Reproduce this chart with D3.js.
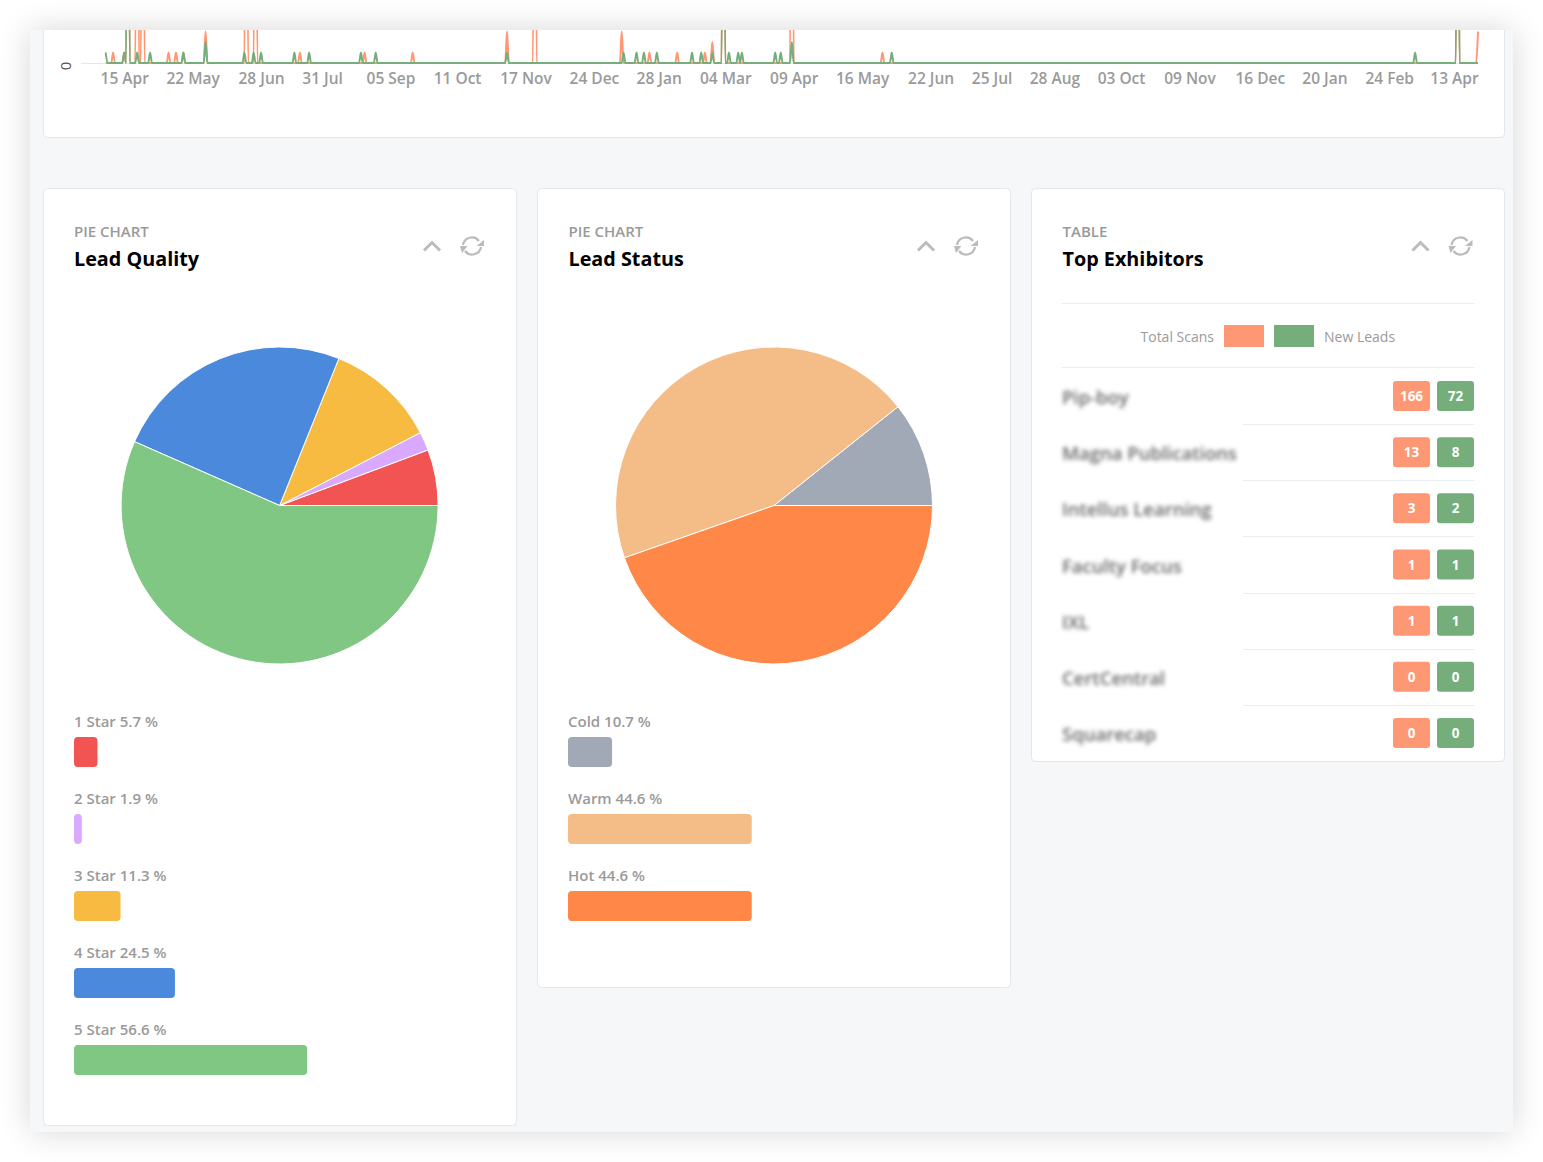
<!DOCTYPE html>
<html><head><meta charset="utf-8">
<script src="https://cdn.jsdelivr.net/npm/d3@7"></script>
<style>
html,body{margin:0;padding:0;background:#fff;overflow:hidden}
#frame{position:absolute;left:30px;top:30px;width:1483px;height:1102px;background:#f5f7f9;box-shadow:0 0 30px rgba(0,0,0,.16)}
svg{position:absolute;left:0;top:0}
text{font-family:"Open Sans",sans-serif}
</style></head><body>
<div id="frame"></div>
<svg id="c" width="1543" height="1162"></svg>
<script>
// Timeline: day index of each non-zero reading, and its value
const scanDays  = [0,4,10,12,17,20,34,38,42,54,76,81,105,140,166,217,232,279,294,309,324,328,334,371,420,731,742];
const scanVals  = [0,1,1,40,40,40,1,1,1,3,40,40,1,1,1,3,40,3,1,1,1,2,40,40,1,40,3];
const leadDays  = [0,10,12,17,24,42,54,75,80,84,102,110,138,146,217,280,287,291,298,317,322,328,334,337,342,344,362,365,371,425,708,731];
const leadVals  = [1,1,40,1,1,1,2,1,1,1,1,1,1,1,1,1,1,1,1,1,1,1,40,1,1,1,1,1,2,1,1,40];
const lastDay = 742;
const tickDays   = [10,47,84,117,154,190,227,264,299,335,372,409,446,479,513,549,586,624,659,694,729];
const tickLabels = ["15 Apr","22 May","28 Jun","31 Jul","05 Sep","11 Oct","17 Nov","24 Dec","28 Jan","04 Mar","09 Apr","16 May","22 Jun","25 Jul","28 Aug","03 Oct","09 Nov","16 Dec","20 Jan","24 Feb","13 Apr"];

// Pies
const qualityLabels = ["1 Star","2 Star","3 Star","4 Star","5 Star"];
const qualityValues = [5.7,1.9,11.3,24.5,56.6];
const qualityColors = ["#f25454","#d8a9ff","#f7bb41","#4a89dc","#81c784"];
const statusLabels = ["Cold","Warm","Hot"];
const statusValues = [10.7,44.6,44.6];
const statusColors = ["#a2a9b6","#f4bd87","#ff8748"];

// Table
const exhibitors = ["Pip-boy","Magna Publications","Intellus Learning","Faculty Focus","IXL","CertCentral","Squarecap"];
const totalScans = [166,13,3,1,1,0,0];
const newLeads   = [72,8,2,1,1,0,0];

const ORANGE="#fe9773", GREEN="#75ae7a", GREY="#9a9a9a", BORDER="#e3e7ed";
const svg=d3.select("#c");
const defs=svg.append("defs");
defs.append("clipPath").attr("id","clip").append("rect").attr("x",30).attr("y",30).attr("width",1483).attr("height",1102);
defs.append("filter").attr("id","blur").attr("x","-10%").attr("y","-50%").attr("width","120%").attr("height","200%")
  .append("feGaussianBlur").attr("stdDeviation",2.3);
const root=svg.append("g").attr("clip-path","url(#clip)");

// Cards
[[43.5,-20,1461,157.5],[43.5,188.5,473,937],[537.5,188.5,473,799],[1031.5,188.5,473,573]].forEach(c=>{
  root.append("rect").attr("x",c[0]).attr("y",c[1]).attr("width",c[2]).attr("height",c[3]).attr("rx",4)
    .attr("fill","#fff").attr("stroke",BORDER);
});

// Timeline
const x=d3.scaleLinear().domain([0,lastDay]).range([105.7,1478]);
const y=d3.scaleLinear().domain([0,1]).range([63,52.5]);
const dense=(days,vals)=>{const m=new Map(days.map((d,i)=>[d,vals[i]]));return d3.range(0,lastDay+1).map(d=>({d,v:m.get(d)||0}));};
const line=d3.line().x(p=>x(p.d)).y(p=>y(p.v)).curve(d3.curveMonotoneX);
const tl=root.append("g");
tl.append("line").attr("x1",81).attr("x2",1478).attr("y1",63.5).attr("y2",63.5).attr("stroke","#e6e6e6");
tl.append("path").datum(dense(scanDays,scanVals)).attr("d",line).attr("fill","none").attr("stroke",ORANGE).attr("stroke-width",2);
tl.append("path").datum(dense(leadDays,leadVals)).attr("d",line).attr("fill","none").attr("stroke",GREEN).attr("stroke-width",2);
const xAxis=d3.axisBottom(x).tickValues(tickDays).tickFormat((d,i)=>tickLabels[i]).tickSize(0).tickPadding(0);
const gx=tl.append("g").attr("transform","translate(0,73)").call(xAxis);
gx.select(".domain").remove();
gx.selectAll("text").attr("font-size",15.5).attr("font-weight",600).attr("fill",GREY).style("font-family",'"Open Sans",sans-serif');
const yAxis=d3.axisLeft(y).tickValues([0]).tickFormat(d3.format("d")).tickSize(0).tickPadding(0);
const gy=tl.append("g").attr("transform","translate(65.5,2.5)").call(yAxis);
gy.select(".domain").remove();
gy.selectAll("text").attr("transform","rotate(-90)").attr("x",0).attr("y",0).attr("dy","0.35em").attr("text-anchor","middle")
  .attr("font-size",15).attr("fill","#555").style("font-family",'"Open Sans",sans-serif');

// Card headers
function header(x0,kicker,title,iconX){
  root.append("text").attr("x",x0).attr("y",236.5).attr("font-size",15).attr("font-weight",600).attr("fill",GREY).text(kicker);
  root.append("text").attr("x",x0).attr("y",266).attr("font-size",19.8).attr("font-weight",700).attr("fill","#000").text(title);
  const g=root.append("g").attr("transform",`translate(${iconX},246)`).attr("fill","none").attr("stroke","#bbb").attr("stroke-width",3);
  g.append("path").attr("d","M-8,4.5L0,-3.5L8,4.5");
  const r=g.append("g").attr("transform","translate(40,0)");
  r.append("path").attr("d","M-9,-1A9,9 0 0 1 7,-5").attr("stroke-width",2.2);
  r.append("path").attr("d","M9,1A9,9 0 0 1 -7,5").attr("stroke-width",2.2);
  r.append("path").attr("d","M4.5,0L12,-6L12,0Z").attr("fill","#bbb").attr("stroke","none");
  r.append("path").attr("d","M-12,0L-4.5,0L-10,7Z").attr("fill","#bbb").attr("stroke","none");
}
header(74,"PIE CHART","Lead Quality",432);
header(568.5,"PIE CHART","Lead Status",926);
header(1062.5,"TABLE","Top Exhibitors",1420.5);

// Pies and their bars
const pieGen=d3.pie().sort(null).startAngle(Math.PI/2).endAngle(Math.PI/2-2*Math.PI);
const arc=d3.arc().innerRadius(0).outerRadius(158.5);
const bar=d3.scaleLinear().domain([0,100]).range([0,412]);
function pieCard(cx,x0,labels,values,colors){
  const g=root.append("g").attr("transform",`translate(${cx},505.5)`);
  g.selectAll("path").data(pieGen(values)).join("path").attr("d",arc)
    .attr("fill",(d,i)=>colors[i]).attr("stroke","#fff").attr("stroke-width",1);
  const l=root.append("g");
  labels.forEach((lab,i)=>{
    const top=[737,814,891,968,1045][i];
    l.append("text").attr("x",x0).attr("y",top-10.5).attr("font-size",15).attr("font-weight",600).attr("fill",GREY).text(`${lab} ${values[i]} %`);
    l.append("rect").attr("x",x0).attr("y",top).attr("width",bar(values[i])).attr("height",30).attr("rx",4).attr("fill",colors[i]);
  });
}
pieCard(279.6,74,qualityLabels,qualityValues,qualityColors);
pieCard(774,568,statusLabels,statusValues,statusColors);

// Table
const t=root.append("g");
const hline=(x1,yy)=>t.append("line").attr("x1",x1).attr("x2",1474).attr("y1",yy).attr("y2",yy).attr("stroke","#e9ecf0");
hline(1062,303.5);hline(1062,367.5);
t.append("text").attr("x",1214).attr("y",342).attr("text-anchor","end").attr("font-size",14).attr("fill",GREY).text("Total Scans");
t.append("rect").attr("x",1224).attr("y",325).attr("width",40).attr("height",22).attr("fill",ORANGE);
t.append("rect").attr("x",1274).attr("y",325).attr("width",40).attr("height",22).attr("fill",GREEN);
t.append("text").attr("x",1324).attr("y",342).attr("font-size",14).attr("fill",GREY).text("New Leads");
const row=d3.scaleLinear().domain([0,6]).range([381,718]);
exhibitors.forEach((name,i)=>{
  const yy=row(i);
  if(i<6) hline(1243,Math.round(yy+43)+0.5);
  t.append("text").attr("x",1062).attr("y",yy+23).attr("font-size",18.5).attr("font-weight",600).attr("fill","#666").attr("filter","url(#blur)").text(name);
  [[1393,ORANGE,totalScans[i]],[1437,GREEN,newLeads[i]]].forEach(b=>{
    t.append("rect").attr("x",b[0]).attr("y",yy).attr("width",37).attr("height",30).attr("rx",3).attr("fill",b[1]);
    t.append("text").attr("x",b[0]+18.5).attr("y",yy+20).attr("text-anchor","middle").attr("font-size",13.5).attr("font-weight",700).attr("fill","#fff").text(b[2]);
  });
});
</script>
</body></html>
